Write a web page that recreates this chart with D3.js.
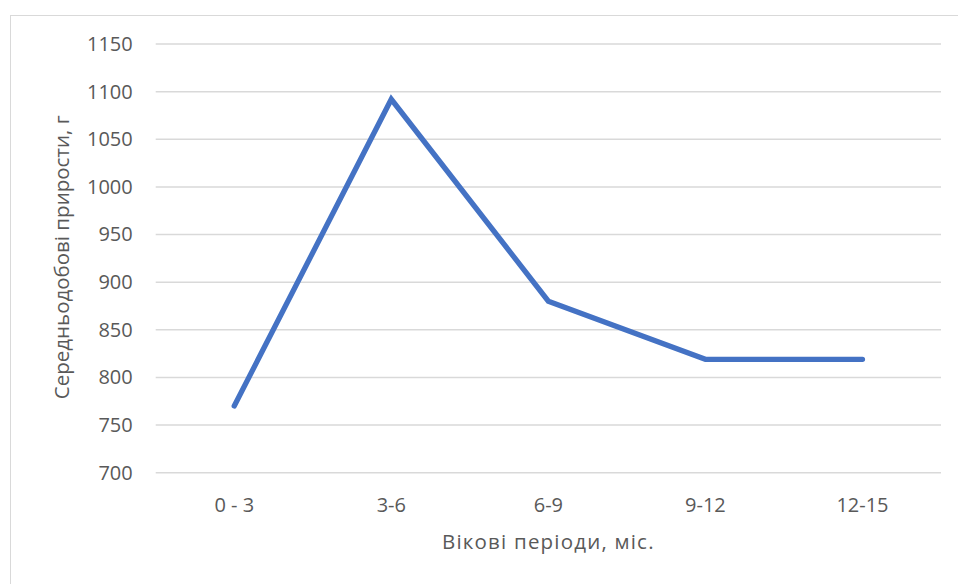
<!DOCTYPE html>
<html>
<head>
<meta charset="utf-8">
<script src="https://cdn.jsdelivr.net/npm/d3@7"></script>
<style>
  html, body { margin: 0; padding: 0; background: #fff; }
  svg text { font-family: "Open Sans", "Liberation Sans", sans-serif; fill: #595959; }
</style>
</head>
<body>
<div id="chart"></div>
<script>
// chart data
const periods = ['0 - 3', '3-6', '6-9', '9-12', '12-15'];
const gains = [770, 1092, 880, 819, 819];
const yTicks = [700, 750, 800, 850, 900, 950, 1000, 1050, 1100, 1150];

const xTitle = 'Вікові періоди, міс.';
const yTitle = 'Середньодобові прирости, г';

function renderChart() {
    const width = 958;
    const height = 584;
    const margin = { left: 155.7, right: 17, top: 44, bottom: 111.3 };

    const svg = d3.select('#chart')
        .append('svg')
        .attr('width', width)
        .attr('height', height);

    // outer chart border (runs off the right/bottom edge)
    svg.append('rect')
        .attr('x', 10.5)
        .attr('y', 15.5)
        .attr('width', 980)
        .attr('height', 600)
        .attr('fill', 'none')
        .attr('stroke', '#d9d9d9')
        .attr('stroke-width', 1);

    const x = d3.scaleBand()
        .domain(periods)
        .range([margin.left, width - margin.right]);

    const y = d3.scaleLinear()
        .domain([700, 1150])
        .range([height - margin.bottom, margin.top]);

    // gridlines
    svg.append('g')
        .selectAll('line')
        .data(yTicks)
        .enter()
        .append('line')
        .attr('x1', margin.left)
        .attr('x2', width - margin.right)
        .attr('y1', d => y(d))
        .attr('y2', d => y(d))
        .attr('stroke', '#d9d9d9')
        .attr('stroke-width', 1.5);

    // y axis labels
    const yAxis = d3.axisLeft(y)
        .tickValues(yTicks)
        .tickFormat(d3.format('d'))
        .tickSize(0)
        .tickPadding(23);

    const gy = svg.append('g')
        .attr('transform', `translate(${margin.left},0)`)
        .call(yAxis);
    gy.select('.domain').remove();
    gy.selectAll('text')
        .attr('font-size', 20)
        .attr('fill', '#595959');

    // x axis labels
    const xAxis = d3.axisBottom(x)
        .tickSize(0)
        .tickPadding(25);

    const gx = svg.append('g')
        .attr('transform', `translate(0,${y(700)})`)
        .call(xAxis);
    gx.select('.domain').remove();
    gx.selectAll('text')
        .attr('font-size', 20)
        .attr('fill', '#595959');

    // line
    const line = d3.line()
        .x((d, i) => x(periods[i]) + x.bandwidth() / 2)
        .y(d => y(d));

    svg.append('path')
        .datum(gains)
        .attr('d', line)
        .attr('fill', 'none')
        .attr('stroke', '#4472c4')
        .attr('stroke-width', 5.3)
        .attr('stroke-linecap', 'round')
        .attr('stroke-linejoin', 'miter');

    // axis titles
    svg.append('text')
        .attr('x', (margin.left + width - margin.right) / 2)
        .attr('y', 549)
        .attr('text-anchor', 'middle')
        .attr('font-size', 20.5)
        .attr('letter-spacing', 1.2)
        .text(xTitle);

    svg.append('text')
        .attr('transform', `translate(69,${(y(700) + y(1150)) / 2 - 1}) rotate(-90)`)
        .attr('text-anchor', 'middle')
        .attr('font-size', 20.5)
        .text(yTitle);
}

renderChart();
</script>
</body>
</html>
